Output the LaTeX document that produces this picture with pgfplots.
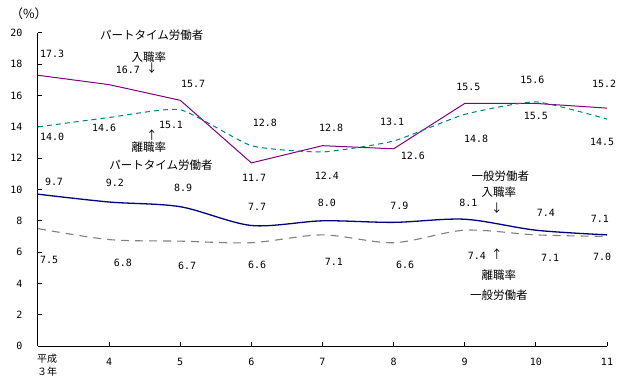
\documentclass[border=0pt]{standalone}
\usepackage{pgfplots}
\pgfplotsset{compat=1.18}
\usepackage{fontspec}
\setmainfont{DejaVu Sans Mono}
\newfontfamily\jp{Noto Sans CJK JP}
\definecolor{ptin}{HTML}{800080}
\definecolor{ptout}{HTML}{008080}
\definecolor{gin}{HTML}{000080}
\definecolor{gout}{HTML}{808080}
\begin{document}
\begin{tikzpicture}
\begin{axis}[
 at={(0,0)}, anchor=south west,
 scale only axis, width=569bp, height=313bp,
 xmin=3, xmax=11, ymin=0, ymax=20,
 axis x line*=bottom, axis y line*=left,
 tick align=inside, major tick length=4bp,
 xtick={3,...,11}, xticklabels={,4,5,6,7,8,9,10,11},
 ytick={0,2,...,20},
 /pgf/number format/assume math mode=true,
 tick label style={font=\fontsize{10bp}{12bp}\selectfont},
 yticklabel style={xshift=-12bp},
 xticklabel style={yshift=-9bp},
 axis line style={line width=1bp},
 tick style={line width=1bp, black},
 clip=false,
 every node/.append style={font=\fontsize{11bp}{13bp}\selectfont},
]
% part-time entry rate
\addplot[ptin, line width=1bp] coordinates {(3,17.3)(4,16.7)(5,15.7)(6,11.7)(7,12.8)(8,12.6)(9,15.5)(10,15.5)(11,15.2)};
% part-time separation rate
\addplot[ptout, line width=1bp, dash pattern=on 5bp off 4bp, smooth, tension=0.3] coordinates {(3,14.0)(4,14.6)(5,15.1)(6,12.8)(7,12.4)(8,13.1)(9,14.8)(10,15.6)(11,14.5)};
% general entry rate
\addplot[gin, line width=1.3bp, smooth] coordinates {(3,9.7)(4,9.2)(5,8.9)(6,7.7)(7,8.0)(8,7.9)(9,8.1)(10,7.4)(11,7.1)};
% general separation rate
\addplot[gout, line width=1.1bp, dash pattern=on 8bp off 6bp, smooth] coordinates {(3,7.5)(4,6.8)(5,6.7)(6,6.6)(7,7.1)(8,6.6)(9,7.4)(10,7.1)(11,7.0)};

% value labels: part-time entry
\node at (axis cs:3.197,18.66) {17.3};
\node at (axis cs:4.265,17.64) {16.7};
\node at (axis cs:5.18,16.74) {15.7};
\node at (axis cs:6.19,14.25) {12.8};
\node at (axis cs:7.12,13.93) {12.8};
\node at (axis cs:7.98,14.31) {13.1};
\node at (axis cs:9.05,16.55) {15.5};
\node at (axis cs:9.95,17.0) {15.6};
\node at (axis cs:10.96,16.74) {15.2};
% part-time separation
\node at (axis cs:3.197,13.35) {14.0};
\node at (axis cs:3.93,13.93) {14.6};
\node at (axis cs:4.87,14.12) {15.1};
\node at (axis cs:6.04,10.73) {11.7};
\node at (axis cs:7.06,10.86) {12.4};
\node at (axis cs:8.27,12.14) {12.6};
\node at (axis cs:9.16,13.23) {14.8};
\node at (axis cs:10.0,14.70) {15.5};
\node at (axis cs:10.93,13.04) {14.5};
% general entry
\node at (axis cs:3.225,10.48) {9.7};
\node at (axis cs:4.08,10.42) {9.2};
\node at (axis cs:5.04,10.10) {8.9};
\node at (axis cs:6.08,8.88) {7.7};
\node at (axis cs:7.06,9.14) {8.0};
\node at (axis cs:8.08,8.95) {7.9};
\node at (axis cs:9.05,9.14) {8.1};
\node at (axis cs:10.14,8.50) {7.4};
\node at (axis cs:10.90,8.12) {7.1};
% general separation
\node at (axis cs:3.155,5.50) {7.5};
\node at (axis cs:4.195,5.30) {6.8};
\node at (axis cs:5.095,5.11) {6.7};
\node at (axis cs:6.08,5.18) {6.6};
\node at (axis cs:7.16,5.37) {7.1};
\node at (axis cs:8.16,5.18) {6.6};
\node at (axis cs:9.17,5.75) {7.4};
\node at (axis cs:10.2,5.62) {7.1};
\node at (axis cs:10.93,5.69) {7.0};

% annotations
\node[font=\jp\fontsize{12.5bp}{14bp}\selectfont] at (axis cs:2.873,21.25) {（\%）};
\node[font=\jp\fontsize{11.5bp}{13bp}\selectfont] at (axis cs:4.60,19.87) {パートタイム労働者};
\node[font=\jp\fontsize{11.5bp}{13bp}\selectfont] at (axis cs:4.56,18.47) {入職率};
\node[font=\jp\fontsize{11.5bp}{13bp}\selectfont] at (axis cs:4.60,17.76) {↓};
\node[font=\jp\fontsize{11.5bp}{13bp}\selectfont] at (axis cs:4.60,13.48) {↑};
\node[font=\jp\fontsize{11.5bp}{13bp}\selectfont] at (axis cs:4.56,12.72) {離職率};
\node[font=\jp\fontsize{11.5bp}{13bp}\selectfont] at (axis cs:4.73,11.57) {パートタイム労働者};
\node[font=\jp\fontsize{11.5bp}{13bp}\selectfont] at (axis cs:9.50,10.86) {一般労働者};
\node[font=\jp\fontsize{11.5bp}{13bp}\selectfont] at (axis cs:9.48,9.84) {入職率};
\node[font=\jp\fontsize{11.5bp}{13bp}\selectfont] at (axis cs:9.45,8.82) {↓};
\node[font=\jp\fontsize{11.5bp}{13bp}\selectfont] at (axis cs:9.45,5.88) {↑};
\node[font=\jp\fontsize{11.5bp}{13bp}\selectfont] at (axis cs:9.48,4.54) {離職率};
\node[font=\jp\fontsize{11.5bp}{13bp}\selectfont] at (axis cs:9.48,3.26) {一般労働者};
\node[font=\jp\fontsize{10bp}{13bp}\selectfont, align=center] at (axis cs:3.127,-1.21) {平成\\３年};
\end{axis}
\pgfresetboundingbox
\path[use as bounding box] (-38bp,-39bp) rectangle (582bp,346bp);
\end{tikzpicture}
\end{document}
